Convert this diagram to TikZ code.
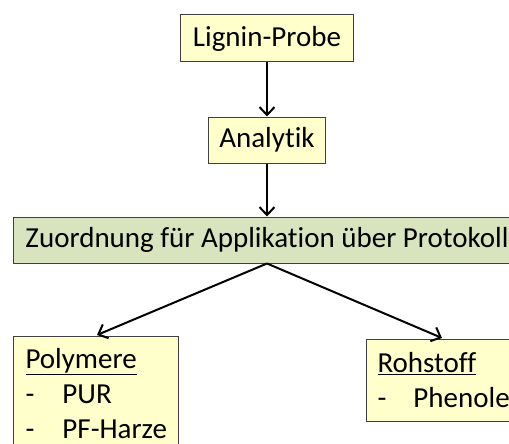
\documentclass[tikz,border=0pt]{standalone}
\usepackage{fontspec}
\setmainfont{Carlito}[Ligatures=NoCommon]
\usepackage{tikz}
\usetikzlibrary{arrows.meta}
\definecolor{boxyellow}{HTML}{FFFFCC}
\definecolor{boxgreen}{HTML}{D7E4BD}
\definecolor{boxline}{HTML}{404040}
\newcommand{\dashitem}[2]{\makebox[#1][l]{-}#2}

\begin{document}
\begin{tikzpicture}
[ x=1pt, y=-1pt, font=\fontsize{29}{35}\selectfont
, step box/.style={rectangle, draw=boxline, line width=1pt, fill=boxyellow, inner sep=0pt}
, group box/.style={step box, anchor=north west, align=left, inner xsep=12pt}
, flow/.style={line width=2pt, -{Straight Barb[length=8pt, width=15pt, line width=2pt]}}
]
\useasboundingbox (0,0) rectangle (509,444);
\clip (0,0) rectangle (509,444);
% Top chain:
\node (probe) [step box, minimum width=173pt, minimum height=47pt] at (267,38.5) {Lignin-Probe};
\node (analytik) [step box, minimum width=117pt, minimum height=46pt] at (267,140) {Analytik};
\node (zuordnung) [step box, fill=boxgreen, minimum width=508pt, minimum height=46pt] at (267,240) {Zuordnung für Applikation über Protokoll};
% Applications:
\node (polymere) [group box, minimum width=164pt, minimum height=114pt] at (13,336)
  {\underline{Polymere}\\ \dashitem{37pt}{PUR}\\ \dashitem{37pt}{PF-Harze}};
\node (rohstoff) [group box, inner xsep=11pt, minimum height=82pt] at (366,339)
  {\underline{Rohstoff}\\ \dashitem{36pt}{Phenole}};
\draw [flow] (probe) -- (analytik);
\draw [flow] (analytik) -- (zuordnung);
\draw [flow] (zuordnung.south) -- (97,335);
\draw [flow] (zuordnung.south) -- (442,338);
\end{tikzpicture}
\end{document}
